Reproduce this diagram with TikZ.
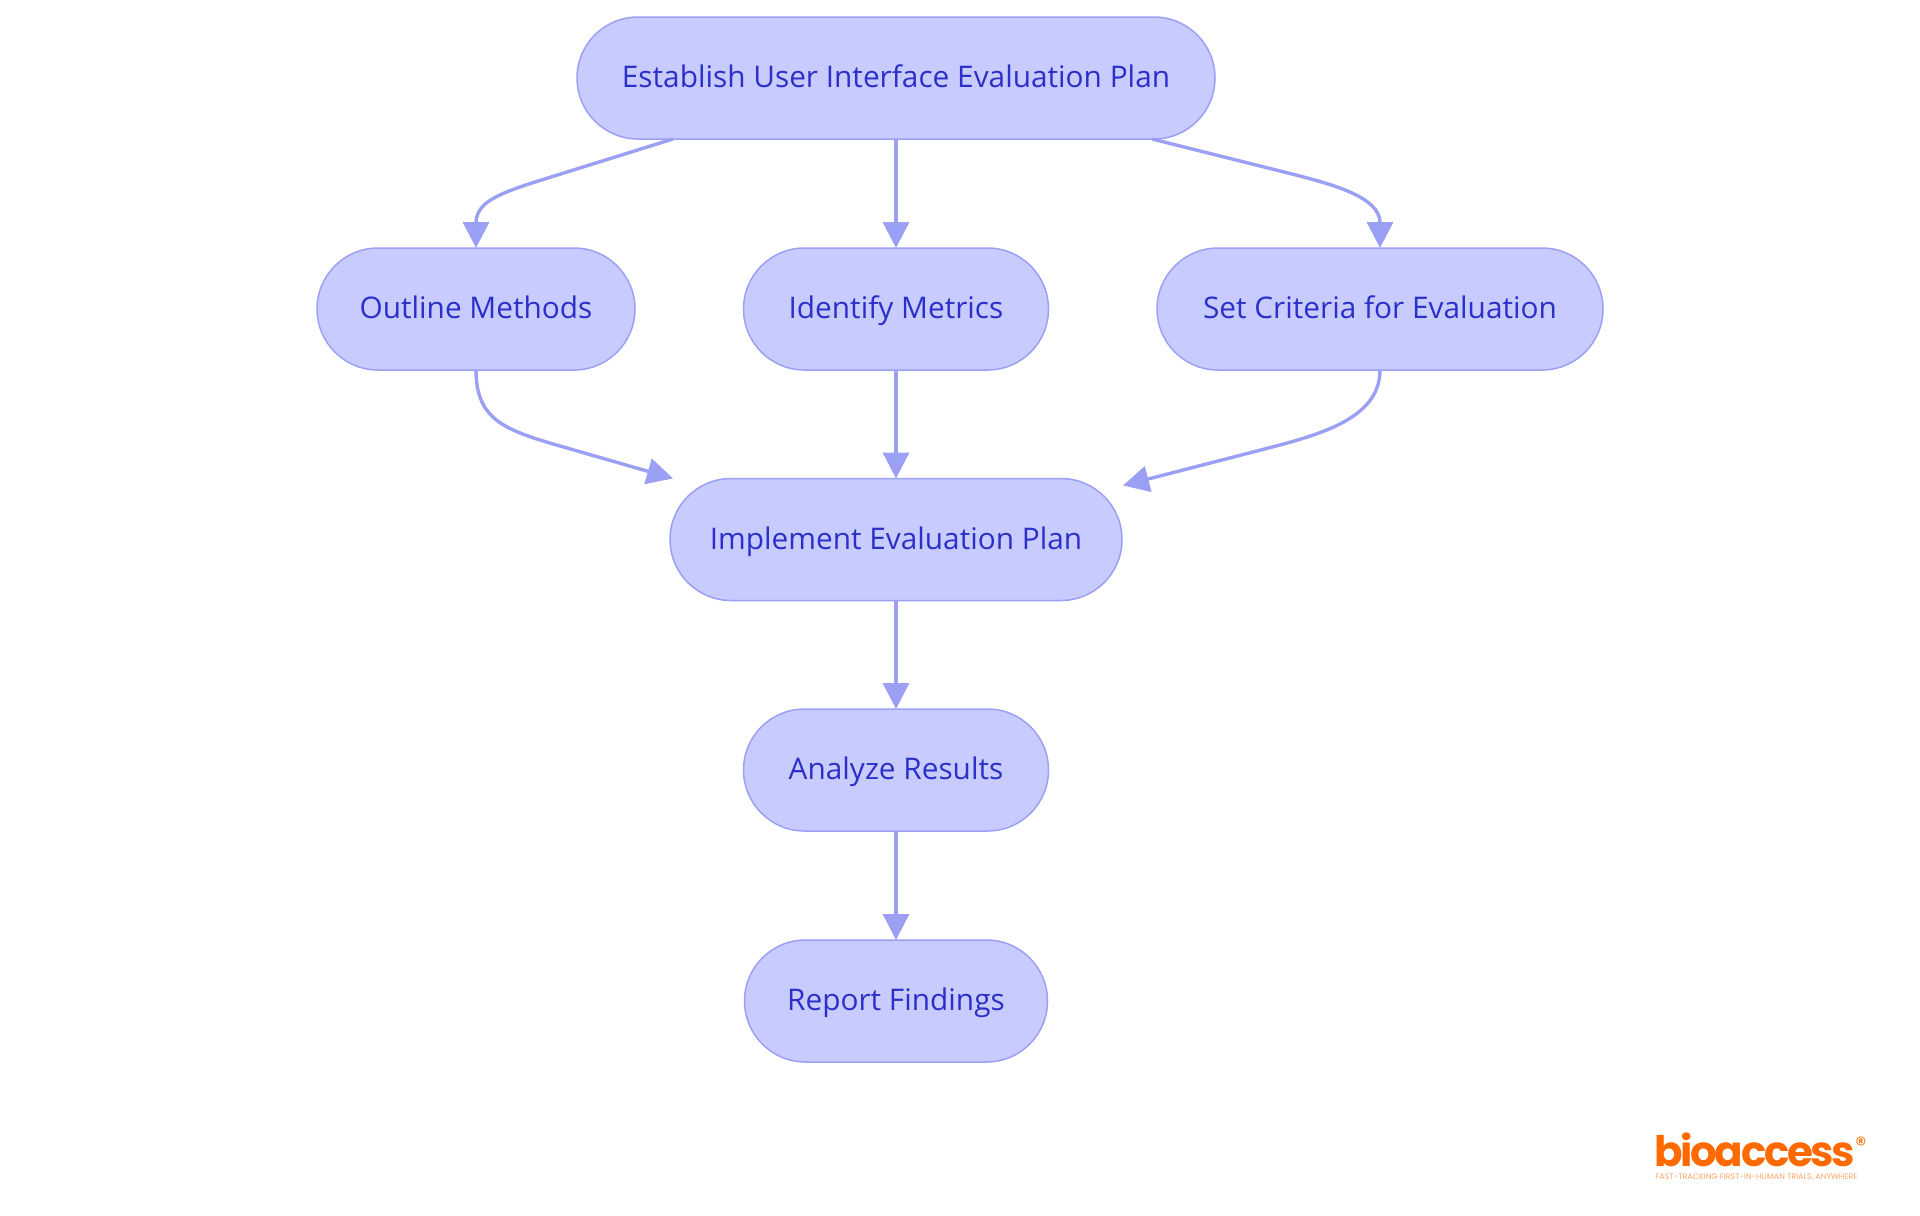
\documentclass[tikz,border=0pt]{standalone}
\usepackage{fontspec}
\usetikzlibrary{arrows.meta}
\setmainfont{Open Sans}
\newfontfamily\logofont[LetterSpace=-5.7]{Poppins}
\newfontfamily\tagfont{Poppins}
\definecolor{taskfill}{HTML}{C8CBFE}
\definecolor{taskline}{HTML}{9CA0F4}
\definecolor{tasktext}{HTML}{2B30C9}
\definecolor{logoorange}{HTML}{FF6A00}
\begin{document}
\begin{tikzpicture}[x=0.5pt, y=-0.5pt,
	tasknode/.style={draw=taskline, fill=taskfill, text=tasktext, line width=0.75pt, rounded corners=30.5pt, minimum height=61pt, inner sep=0pt, outer sep=0pt, text height=12pt, text depth=2.5pt, font=\fontsize{14.9}{17}\selectfont},
	flowline/.style={draw=taskline, line width=1.7pt, -{Triangle[length=13pt, width=13pt]}}]
	\useasboundingbox (0, 0) rectangle (1920, 1215);
	\node[tasknode, minimum width=319pt] (establish) at (896, 78) {Establish User Interface Evaluation Plan};
	\node[tasknode, minimum width=159pt] (outline) at (476, 309) {Outline Methods};
	\node[tasknode, minimum width=152.5pt] (metrics) at (896, 309) {Identify Metrics};
	\node[tasknode, minimum width=223pt] (criteria) at (1380, 309) {Set Criteria for Evaluation};
	\node[tasknode, minimum width=226pt] (implement) at (896, 539.5) {Implement Evaluation Plan};
	\node[tasknode, minimum width=152.5pt] (analyze) at (896, 770) {Analyze Results};
	\node[tasknode, minimum width=151.5pt] (report) at (896, 1001) {Report Findings};
	\draw[flowline] ([xshift=-111.5pt]establish.south) -- ++(-106, 33) .. controls +(-57, 18) and +(0, -50) .. (outline.north);
	\draw[flowline] (establish) -- (metrics);
	\draw[flowline] ([xshift=128pt]establish.south) -- ++(128, 32) .. controls +(50, 12.5) and +(0, -52) .. (criteria.north);
	\draw[flowline] (outline.south) .. controls +(0, 50) and +(-55, -16) .. ++(84, 76) -- ([shift={(-223, 0)}]implement.north);
	\draw[flowline] (metrics) -- (implement);
	\draw[flowline] (criteria.south) .. controls +(0, 45) and +(48, -13) .. ++(-100, 75) -- ([shift={(227, 7)}]implement.north);
	\draw[flowline] (implement) -- (analyze);
	\draw[flowline] (analyze) -- (report);
	\node[anchor=base west, inner sep=0pt, text=logoorange, text depth=0pt, font=\logofont\bfseries\fontsize{21}{21}\selectfont] (logoname) at (1654, 1166) {bioaccess};
	\node[anchor=center, inner sep=0pt, text=logoorange, font=\tagfont\fontsize{11}{11}\selectfont] (logomark) at (1861, 1145) {®};
	\node[anchor=base west, inner sep=0pt, text=logoorange!60, text height=3pt, font=\tagfont\fontsize{4}{4}\selectfont] (logotag) at (1655, 1179) {FAST-TRACKING FIRST-IN-HUMAN TRIALS, ANYWHERE};
\end{tikzpicture}
\end{document}
